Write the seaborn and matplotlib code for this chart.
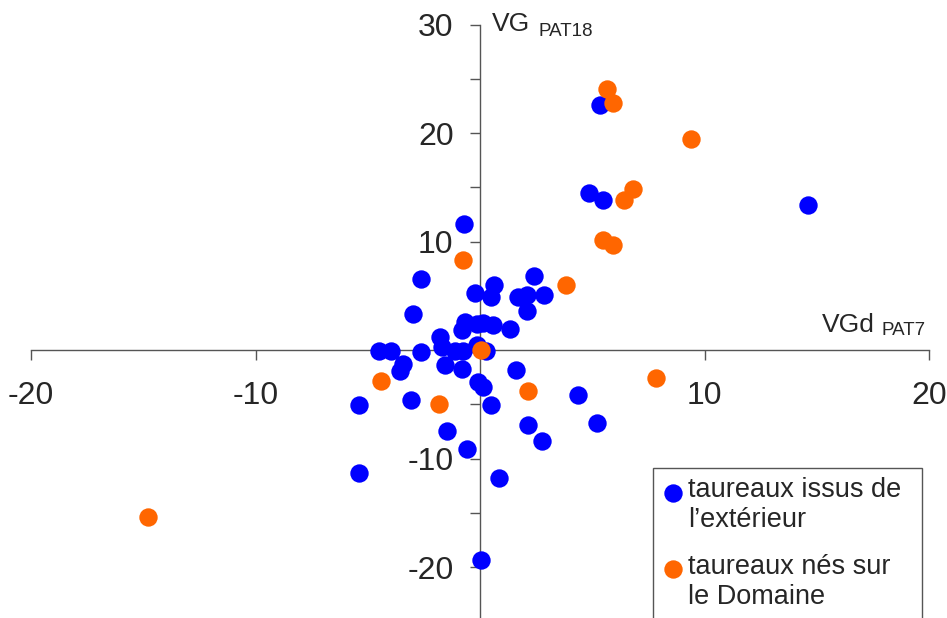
import matplotlib
matplotlib.use("Agg")
import matplotlib.pyplot as plt
import seaborn as sns
import pandas as pd

# Breeding values: VGd PAT7 (x) against VG PAT18 (y)
ext_x = [-0.70, -2.64, -0.22, 0.62, 0.48, 2.42, 1.71, 2.09, 2.86, 2.08,
         -3.00, -0.67, -0.80, -0.12, 0.15, 0.57, 1.35, -1.78, -1.70, -1.10,
         -0.75, -0.12, 0.25, -4.52, -3.96, -2.64, -3.44, -3.58, -1.56, -0.82,
         1.62, -0.07, 0.14, 4.38, -5.39, -3.09, 0.48, -1.48, 2.15, 2.78,
         -0.59, -5.39, 0.85, 0.03, 5.20, 5.35, 4.84, 5.46, 14.62]
ext_y = [11.6, 6.6, 5.25, 6.05, 4.9, 6.8, 4.95, 5.05, 5.1, 3.6,
         3.3, 2.6, 1.85, 2.45, 2.5, 2.35, 2.0, 1.2, 0.3, -0.05,
         -0.1, 0.46, -0.05, -0.05, -0.05, -0.2, -1.25, -1.9, -1.35, -1.7,
         -1.85, -2.9, -3.35, -4.1, -5.05, -4.6, -5.05, -7.4, -6.86, -8.36,
         -9.12, -11.3, -11.8, -19.3, -6.7, 22.6, 14.5, 13.8, 13.4]

dom_x = [5.64, 5.91, 9.38, 6.80, 6.43, 5.46, 5.91, -0.74, 3.85, 0.03,
         -4.42, 2.15, -1.84, 7.84, -14.77]
dom_y = [24.1, 22.8, 19.5, 14.9, 13.8, 10.2, 9.7, 8.3, 6.0, 0.0,
         -2.8, -3.75, -5.0, -2.6, -15.4]

group_labels = ["taureaux issus de\nl\u2019extérieur", "taureaux nés sur\nle Domaine"]
group_colors = ["#0000FF", "#FF6600"]

x_ticks = [-20, -10, 10, 20]
y_ticks = [-20, -10, 10, 20, 30]
y_minor = [-25, -15, -5, 5, 15, 25]
x_title, x_sub = "VGd", "PAT7"
y_title, y_sub = "VG", "PAT18"

sns.set_style("white")
plt.rcParams["font.family"] = ["Liberation Sans", "DejaVu Sans"]
plt.rcParams["axes.unicode_minus"] = False

W, H = 947, 618
fig = plt.figure(figsize=(W / 100, H / 100), dpi=100)
ax = fig.add_axes([31 / W, -3.5 / H, 898 / W, (621.5 - 24.7) / H])

ext = pd.DataFrame({"x": ext_x, "y": ext_y})
dom = pd.DataFrame({"x": dom_x, "y": dom_y})
sns.scatterplot(data=ext, x="x", y="y", color=group_colors[0], s=175,
                linewidth=0, label=group_labels[0], ax=ax, zorder=3)
sns.scatterplot(data=dom, x="x", y="y", color=group_colors[1], s=175,
                linewidth=0, label=group_labels[1], ax=ax, zorder=4)

ax.set_xlim(-20, 20)
ax.set_ylim(-25, 30)

# axes crossing at the origin
for side in ("top", "right"):
    ax.spines[side].set_visible(False)
ax.spines["left"].set_position(("data", 0))
ax.spines["bottom"].set_position(("data", 0))
for side in ("left", "bottom"):
    ax.spines[side].set_color("#555555")
    ax.spines[side].set_linewidth(1.0)
    ax.spines[side].set_zorder(2)

ax.set_xticks(x_ticks)
ax.set_xticklabels([str(v) for v in x_ticks])
ax.set_yticks(y_ticks)
ax.set_yticklabels([str(v) for v in y_ticks])
ax.set_yticks(y_minor, minor=True)
ax.tick_params(axis="x", which="major", direction="out", length=7, width=1.0,
               color="#555555", labelsize=23, pad=15, bottom=True)
ax.tick_params(axis="y", which="both", direction="out", length=7, width=1.0,
               color="#555555", labelsize=23, pad=12, left=True)
ax.set_xlabel("")
ax.set_ylabel("")

# axis titles with subscripts
px = lambda x: x / W
py = lambda y: 1 - y / H
fig.text(px(492), py(31), y_title, fontsize=19, ha="left", va="baseline")
fig.text(px(538), py(36), y_sub, fontsize=13.5, ha="left", va="baseline")
fig.text(px(822), py(332), x_title, fontsize=19, ha="left", va="baseline")
fig.text(px(881), py(335), x_sub, fontsize=13.5, ha="left", va="baseline")

leg = ax.legend(loc="upper left",
                bbox_to_anchor=(px(653), 0, px(922) - px(653), py(468)),
                bbox_transform=fig.transFigure, borderaxespad=0, mode="expand",
                fontsize=19.5, frameon=True, fancybox=False, framealpha=1,
                edgecolor="#555555", borderpad=0.35, handlelength=0.75,
                handletextpad=0.2, labelspacing=0.75, scatteryoffsets=[1.2])
leg.get_frame().set_linewidth(1.0)

fig.savefig("out.png", dpi=100)
